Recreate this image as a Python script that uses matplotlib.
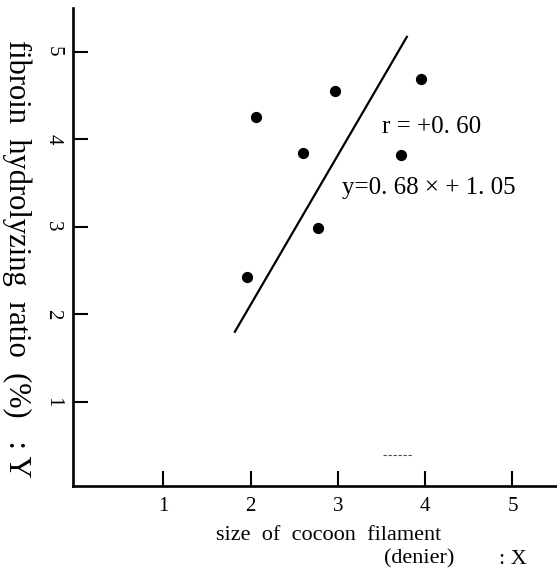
import numpy as np
import matplotlib.pyplot as plt

plt.rcParams['font.family'] = ['Liberation Serif', 'DejaVu Serif']

# dane
size_x = [1.96, 2.06, 2.60, 2.97, 2.77, 3.72, 3.95]
ratio_y = [2.43, 4.25, 3.84, 4.55, 2.99, 3.82, 4.69]
line_x = [1.82, 3.79]
line_y = [1.80, 5.17]
x_ticks = [1, 2, 3, 4, 5]
y_ticks = [1, 2, 3, 4, 5]

fig = plt.figure(figsize=(5.57, 5.74), dpi=100)
ax = fig.add_axes([0.1316, 0.1533, 0.8684, 0.8322])

ax.scatter(size_x, ratio_y, s=50, color='black', zorder=3)
ax.plot(line_x, line_y, color='black', lw=1.6)
# krotka kreska ze skanu
ax.plot([3.52, 3.86], [0.39, 0.39], color='0.3', lw=0.8, ls=(0, (3, 1.5)))

ax.set_xlim(-0.031, 5.51)
ax.set_ylim(0.037, 5.496)

for s in ['top', 'right']:
    ax.spines[s].set_visible(False)
for s in ['left', 'bottom']:
    ax.spines[s].set_linewidth(1.9)

ax.set_xticks(x_ticks)
ax.set_yticks(y_ticks)
ax.tick_params(axis='both', direction='in', length=11, width=1.5, labelsize=15, pad=8)
for lab in ax.get_yticklabels():
    lab.set_rotation(-90)
    lab.set_va('center')

ax.text(3.51, 4.14, 'r = +0. 60', fontsize=18, va='center')
ax.text(3.05, 3.44, 'y=0. 68 × + 1. 05', fontsize=18, va='center')

fig.text(0.59, 0.067, 'size  of  cocoon  filament', fontsize=16, ha='center', va='center')
fig.text(0.69, 0.026, '(denier)', fontsize=16, ha='left', va='center')
fig.text(0.946, 0.026, ': X', fontsize=16, ha='right', va='center')
fig.text(0.03, 0.55, 'fibroin  hydrolyzing  ratio  (%)   : Y', fontsize=22,
         rotation=-90, ha='center', va='center')

fig.savefig('out.png', dpi=100)
